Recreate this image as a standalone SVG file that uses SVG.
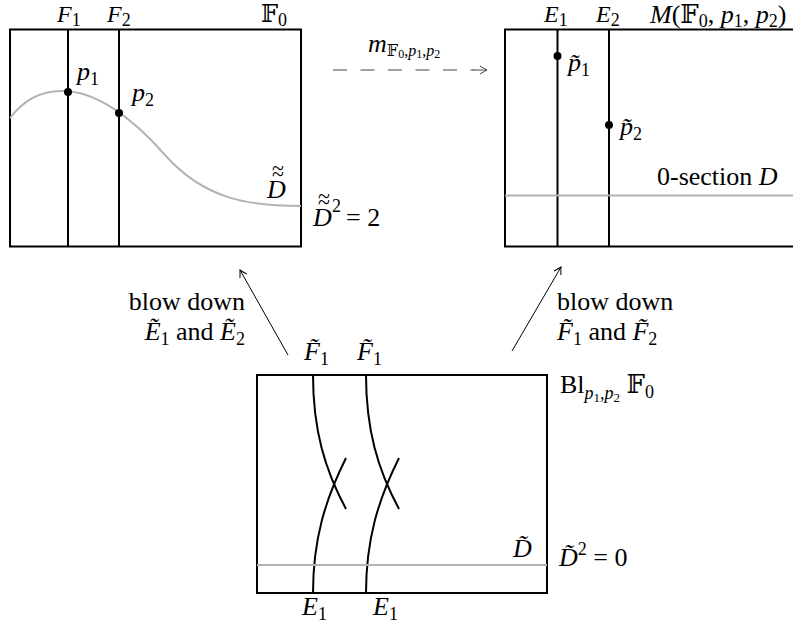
<svg xmlns="http://www.w3.org/2000/svg" width="793" height="623" viewBox="0 0 793 623">
<defs>
<style>
text{font-family:"Liberation Serif","DejaVu Serif",serif;font-size:26px;fill:#000}
.i{font-style:italic}
.u{font-style:normal}
.s{font-size:18px;font-style:normal}
.si{font-size:18px;font-style:italic}
.t{font-size:22px;font-style:normal}
.top{font-size:24px}
.box{fill:none;stroke:#000;stroke-width:2}
.ln{fill:none;stroke:#000;stroke-width:2}
.gr{fill:none;stroke:#b3b3b3;stroke-width:2}
.ar{fill:none;stroke:#000;stroke-width:1}
.da{fill:none;stroke:#444;stroke-width:1;stroke-dasharray:14 13.5}
</style>
<marker id="ah" viewBox="-8 -5 10 10" markerWidth="10" markerHeight="10" refX="0" refY="0" orient="auto" markerUnits="userSpaceOnUse">
<path d="M-7,-4 Q-2,-1 0,0 Q-2,1 -7,4" fill="none" stroke="#000" stroke-width="1"/>
</marker>
<marker id="ahg" viewBox="-8 -5 10 10" markerWidth="10" markerHeight="10" refX="0" refY="0" orient="auto" markerUnits="userSpaceOnUse">
<path d="M-7,-4 Q-2,-1 0,0 Q-2,1 -7,4" fill="none" stroke="#444" stroke-width="1"/>
</marker>
</defs>

<g id="F0">
<rect class="box" x="10" y="29.5" width="291" height="217"/>
<line class="ln" x1="68" y1="29.5" x2="68" y2="246.5"/>
<line class="ln" x1="119" y1="29.5" x2="119" y2="246.5"/>
<path class="gr" d="M10,118 C25,98 45,90 65,91 C95,92 130,115 165,155 C205,200 250,206 301,206"/>
<circle cx="68" cy="92" r="4"/>
<circle cx="119" cy="113" r="4"/>
<text x="57" y="22" class="i top">F<tspan class="s" dy="4">1</tspan></text>
<text x="107" y="22" class="i top">F<tspan class="s" dy="4">2</tspan></text>
<text x="261" y="22" class="u top">𝔽<tspan class="s" dy="4">0</tspan></text>
<text x="77" y="80" class="i">p<tspan class="s" dy="5">1</tspan></text>
<text x="132" y="101" class="i">p<tspan class="s" dy="5">2</tspan></text>
<text x="267" y="198" class="i">D<tspan class="t" x="272" y="175">~</tspan><tspan class="t" x="272" y="181">~</tspan></text>
<text x="313" y="226" class="i">D<tspan class="t" x="318" y="203">~</tspan><tspan class="t" x="318" y="209">~</tspan><tspan class="s" x="332" y="212">2</tspan><tspan class="u" x="346" y="226">= 2</tspan></text>
</g>

<g id="M">
<rect class="box" x="505" y="29.5" width="300" height="217"/>
<line class="ln" x1="557.5" y1="29.5" x2="557.5" y2="246.5"/>
<line class="ln" x1="609" y1="29.5" x2="609" y2="246.5"/>
<line class="gr" x1="505" y1="195.5" x2="793" y2="195.5"/>
<circle cx="557.5" cy="56" r="4"/>
<circle cx="609" cy="125" r="4"/>
<text x="544" y="22" class="i top">E<tspan class="s" dy="4">1</tspan></text>
<text x="596" y="22" class="i top">E<tspan class="s" dy="4">2</tspan></text>
<text x="650" y="23" class="i" font-size="25">M<tspan class="u">(𝔽</tspan><tspan class="s" dy="4">0</tspan><tspan class="u" dy="-4">, </tspan>p<tspan class="s" dy="4">1</tspan><tspan class="u" dy="-4">, </tspan>p<tspan class="s" dy="4">2</tspan><tspan class="u" dy="-4">)</tspan></text>
<text x="568" y="71" class="i">p̃<tspan class="s" dy="5">1</tspan></text>
<text x="620" y="135" class="i">p̃<tspan class="s" dy="5">2</tspan></text>
<text x="657" y="185" class="u">0-section <tspan class="i">D</tspan></text>
</g>

<g id="Bl">
<rect class="box" x="257" y="375" width="290" height="218"/>
<path class="ln" d="M313,375 C313,430 325,470 346,509"/>
<path class="ln" d="M313,593 C313,540 325,500 346,458"/>
<path class="ln" d="M366,375 C366,430 378,470 399,509"/>
<path class="ln" d="M366,593 C366,540 378,500 399,458"/>
<line class="gr" x1="257" y1="565" x2="547" y2="565"/>
<text x="304" y="360" class="i">F̃<tspan class="s" dy="5">1</tspan></text>
<text x="357" y="360" class="i">F̃<tspan class="s" dy="5">1</tspan></text>
<text x="560" y="393" class="u">Bl<tspan class="si" dy="6">p</tspan><tspan font-size="13" dy="3">1</tspan><tspan class="s" dy="-3">,</tspan><tspan class="si">p</tspan><tspan font-size="13" dy="3">2</tspan><tspan dy="-9"> 𝔽</tspan><tspan class="s" dy="5">0</tspan></text>
<text x="513" y="557" class="i">D̃</text>
<text x="559" y="566" class="i">D̃<tspan class="s" dy="-11">2</tspan><tspan class="u" dy="11"> = 0</tspan></text>
<text x="302" y="615" class="i">E<tspan class="s" dy="5">1</tspan></text>
<text x="373" y="615" class="i">E<tspan class="s" dy="5">1</tspan></text>
</g>

<g id="connectors">
<line class="da" x1="333" y1="70" x2="474" y2="70"/>
<line x1="473" y1="70" x2="487" y2="70" stroke="#444" stroke-width="1" marker-end="url(#ahg)"/>
<text x="368" y="52" font-size="22" class="i">m<tspan font-size="16" class="u" dy="4">𝔽</tspan><tspan font-size="12" class="u" dy="2">0</tspan><tspan font-size="16" class="u" dy="-2">,</tspan><tspan font-size="16">p</tspan><tspan font-size="12" class="u" dy="2">1</tspan><tspan font-size="16" class="u" dy="-2">,</tspan><tspan font-size="16">p</tspan><tspan font-size="12" class="u" dy="2">2</tspan></text>
<line class="ar" x1="288" y1="355" x2="240" y2="270" marker-end="url(#ah)"/>
<line class="ar" x1="512" y1="351" x2="561" y2="267" marker-end="url(#ah)"/>
<text x="245" y="310" text-anchor="end" class="u">blow down</text>
<text x="245" y="340" text-anchor="end" class="i">Ẽ<tspan class="s" dy="5">1</tspan><tspan class="u" dy="-5"> and </tspan>Ẽ<tspan class="s" dy="5">2</tspan></text>
<text x="557" y="310" class="u">blow down</text>
<text x="557" y="340" class="i">F̃<tspan class="s" dy="5">1</tspan><tspan class="u" dy="-5"> and </tspan>F̃<tspan class="s" dy="5">2</tspan></text>
</g>
</svg>
